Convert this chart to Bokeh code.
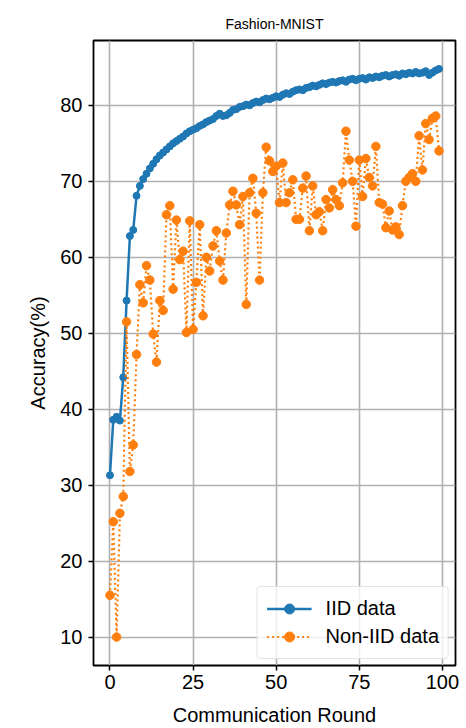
from bokeh.plotting import figure
from bokeh.models import Range1d, FixedTicker, Legend, LegendItem
from bokeh.embed import file_html
from bokeh.resources import INLINE

rounds = list(range(100))

iid = [31.3, 38.6, 39.0, 38.5, 44.2, 54.3, 62.8, 63.6, 68.1, 69.4,
       70.3, 71.0, 71.7, 72.3, 72.9, 73.4, 73.8, 74.2, 74.6, 75.0,
       75.3, 75.6, 75.9, 76.3, 76.6, 76.8, 77.0, 77.3, 77.5, 77.8,
       78.0, 78.2, 78.6, 78.9, 78.6, 78.7, 79.0, 79.4, 79.5, 79.8,
       79.9, 80.1, 80.0, 80.3, 80.5, 80.4, 80.7, 80.9, 80.8, 81.0,
       81.2, 81.1, 81.4, 81.6, 81.5, 81.8, 82.0, 82.1, 82.0, 82.3,
       82.4, 82.6, 82.5, 82.7, 82.9, 82.8, 83.0, 83.1, 83.0, 83.2,
       83.3, 83.1, 83.4, 83.5, 83.3, 83.5, 83.6, 83.4, 83.7, 83.6,
       83.8, 83.7, 83.9, 84.0, 83.8, 84.0, 84.1, 83.9, 84.2, 84.1,
       84.3, 84.2, 84.4, 84.2, 84.3, 84.5, 84.0, 84.3, 84.6, 84.8]

non_iid = [15.5, 25.2, 10.0, 26.3, 28.5, 51.5, 31.8, 35.3, 47.2, 56.4,
           54.0, 58.9, 57.0, 49.9, 46.2, 54.3, 53.0, 65.6, 66.8, 55.8,
           64.9, 59.7, 60.8, 50.1, 64.8, 50.5, 56.7, 64.3, 52.3, 60.0,
           58.2, 61.5, 63.5, 59.5, 57.0, 63.2, 66.9, 68.7, 66.9, 64.3,
           68.0, 53.8, 68.5, 70.4, 65.8, 57.0, 68.5, 74.5, 72.7, 71.3,
           72.0, 67.2, 72.4, 67.2, 68.5, 70.2, 65.0, 65.0, 69.1, 70.7,
           63.5, 69.4, 65.6, 66.0, 63.5, 67.6, 66.5, 68.9, 67.6, 66.8,
           69.8, 76.6, 72.8, 70.0, 64.1, 72.8, 68.0, 73.0, 70.5, 69.4,
           74.6, 67.2, 67.0, 63.9, 66.1, 63.6, 64.0, 63.0, 66.8, 70.0,
           70.5, 71.0, 70.0, 76.0, 71.5, 77.6, 75.5, 78.3, 78.6, 74.0]

x_ticks = [0, 25, 50, 75, 100]
y_ticks = [10, 20, 30, 40, 50, 60, 70, 80]

FONT = "Liberation Sans"
BLUE = "#1f77b4"
ORANGE = "#ff7f0e"

p = figure(width=466, height=728, output_backend="svg", toolbar_location=None,
           x_range=Range1d(-4.95, 103.95), y_range=Range1d(6.26, 88.54),
           title="Fashion-MNIST",
           min_border_left=93, min_border_right=11, min_border_top=40, min_border_bottom=61)

p.title.align = "center"
p.title.text_font = FONT
p.title.text_font_size = "14px"
p.title.text_font_style = "normal"
p.title.text_color = "black"
p.title.standoff = 17

p.outline_line_color = "black"
p.outline_line_width = 1.8
p.background_fill_color = "white"
p.border_fill_color = "white"

for ax, ticks in ((p.xaxis[0], x_ticks), (p.yaxis[0], y_ticks)):
    ax.ticker = FixedTicker(ticks=ticks)
    ax.major_label_text_font = FONT
    ax.major_label_text_font_size = "20px"
    ax.major_label_text_color = "black"
    ax.axis_label_text_font = FONT
    ax.axis_label_text_font_size = "20px"
    ax.axis_label_text_font_style = "normal"
    ax.axis_label_text_color = "black"
    ax.major_tick_out = 5
    ax.major_tick_in = 0
    ax.major_tick_line_width = 1.5
    ax.minor_tick_line_color = None
    ax.axis_line_color = None

p.xaxis.axis_label = "Communication Round"
p.yaxis.axis_label = "Accuracy(%)"
p.xaxis.major_label_standoff = 4
p.xaxis.axis_label_standoff = 12
p.yaxis.major_label_standoff = 6
p.yaxis.axis_label_standoff = 8

p.xgrid.ticker = FixedTicker(ticks=x_ticks)
p.ygrid.ticker = FixedTicker(ticks=y_ticks)
for g in (p.xgrid[0], p.ygrid[0]):
    g.grid_line_color = "#b0b0b0"
    g.grid_line_width = 1.6

l1 = p.line(rounds, iid, line_color=BLUE, line_width=2.5)
s1 = p.scatter(rounds, iid, size=7, fill_color=BLUE, line_color=BLUE)
l2 = p.line(rounds, non_iid, line_color=ORANGE, line_width=2.2, line_dash="2 3")
s2 = p.scatter(rounds, non_iid, size=8.5, fill_color=ORANGE, line_color=ORANGE)

legend = Legend(items=[LegendItem(label="IID data", renderers=[l1, s1]),
                       LegendItem(label="Non-IID data", renderers=[l2, s2])],
                location="bottom_right")
legend.label_text_font = FONT
legend.label_text_font_size = "20px"
legend.label_text_color = "black"
legend.glyph_width = 45
legend.glyph_height = 25
legend.label_standoff = 14
legend.padding = 9
legend.spacing = 3
legend.margin = 6
legend.border_line_color = "#cccccc"
legend.border_line_width = 1.5
legend.background_fill_alpha = 0.8
legend.border_radius = 4
p.add_layout(legend)

open("out.html", "w").write(file_html(p, INLINE))
